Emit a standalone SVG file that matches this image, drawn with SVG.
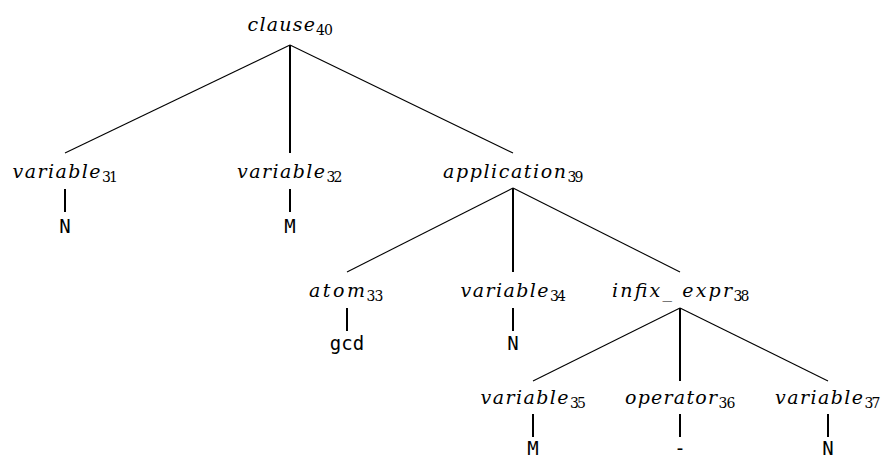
<svg xmlns="http://www.w3.org/2000/svg" width="881" height="458" viewBox="0 0 881 458">
<style>
.w{font-family:'DejaVu Serif',serif;font-style:italic;font-size:19px;fill:#000}
.s{font-family:'DejaVu Serif',serif;font-size:14px;fill:#000}
.t{font-family:'DejaVu Sans Mono',monospace;font-size:19px;fill:#000;text-anchor:middle}
.e{stroke:#000;stroke-width:1.1;fill:none}
.v{stroke:#000;stroke-width:2;fill:none}
</style>
<rect width="881" height="458" fill="#fff"/>
<g id="connectors">
<line class="e" x1="290" y1="45" x2="65" y2="153"/>
<line class="v" x1="290" y1="45" x2="290" y2="153"/>
<line class="e" x1="290" y1="45" x2="513" y2="153"/>
<line class="v" x1="65" y1="189" x2="65" y2="212"/>
<line class="v" x1="290" y1="189" x2="290" y2="212"/>
<line class="e" x1="513" y1="188" x2="347" y2="272"/>
<line class="v" x1="513" y1="188" x2="513" y2="272"/>
<line class="e" x1="513" y1="188" x2="680" y2="272"/>
<line class="v" x1="347" y1="308" x2="347" y2="331"/>
<line class="v" x1="513" y1="308" x2="513" y2="331"/>
<line class="e" x1="680" y1="308" x2="533" y2="381"/>
<line class="v" x1="680" y1="308" x2="680" y2="381"/>
<line class="e" x1="680" y1="308" x2="828" y2="381"/>
<line class="v" x1="533" y1="414" x2="533" y2="437"/>
<line class="v" x1="680" y1="414" x2="680" y2="437"/>
<line class="v" x1="828" y1="414" x2="828" y2="437"/>
</g>
<g id="clause40"><text class="w" x="247.5" y="31" textLength="67.5" lengthAdjust="spacing">clause</text><text class="s" x="316" y="35" textLength="17" lengthAdjust="spacing">40</text></g>
<g id="variable31"><text class="w" x="12.5" y="178" textLength="88" lengthAdjust="spacing">variable</text><text class="s" x="102" y="182" textLength="16" lengthAdjust="spacing">31</text></g>
<g id="variable32"><text class="w" x="237" y="178" textLength="88" lengthAdjust="spacing">variable</text><text class="s" x="326.5" y="182" textLength="16" lengthAdjust="spacing">32</text></g>
<g id="application39"><text class="w" x="443" y="178" textLength="123" lengthAdjust="spacing">application</text><text class="s" x="567.5" y="182" textLength="16" lengthAdjust="spacing">39</text></g>
<g id="atom33"><text class="w" x="309" y="297" textLength="56" lengthAdjust="spacing">atom</text><text class="s" x="366.5" y="301" textLength="17" lengthAdjust="spacing">33</text></g>
<g id="variable34"><text class="w" x="460.5" y="297" textLength="88" lengthAdjust="spacing">variable</text><text class="s" x="550" y="301" textLength="16" lengthAdjust="spacing">34</text></g>
<g id="infix_expr38"><text class="w" x="612" y="297" textLength="120" lengthAdjust="spacing">infix_ expr</text><text class="s" x="733.5" y="301" textLength="16" lengthAdjust="spacing">38</text></g>
<g id="variable35"><text class="w" x="480.5" y="404" textLength="88" lengthAdjust="spacing">variable</text><text class="s" x="570" y="408" textLength="16" lengthAdjust="spacing">35</text></g>
<g id="operator36"><text class="w" x="625" y="404" textLength="92" lengthAdjust="spacing">operator</text><text class="s" x="718.5" y="408" textLength="17" lengthAdjust="spacing">36</text></g>
<g id="variable37"><text class="w" x="775" y="404" textLength="88" lengthAdjust="spacing">variable</text><text class="s" x="864.5" y="408" textLength="16" lengthAdjust="spacing">37</text></g>
<g id="term31"><text class="t" x="65" y="233">N</text></g>
<g id="term32"><text class="t" x="290" y="233">M</text></g>
<g id="term33"><text class="t" x="347" y="350">gcd</text></g>
<g id="term34"><text class="t" x="513" y="350">N</text></g>
<g id="term35"><text class="t" x="533" y="455">M</text></g>
<g id="term36"><text class="t" x="680" y="455">-</text></g>
<g id="term37"><text class="t" x="828" y="455">N</text></g>
</svg>
